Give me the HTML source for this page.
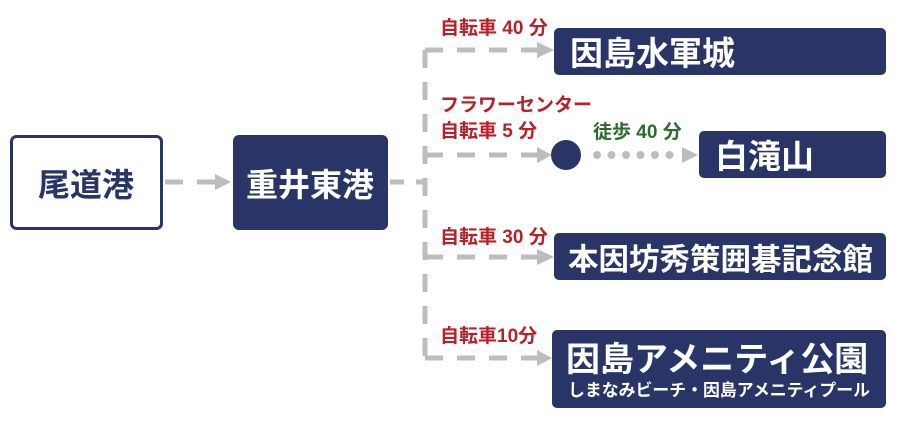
<!DOCTYPE html>
<html><head><meta charset="utf-8"><style>
html,body{margin:0;padding:0;background:#fff;}
svg{display:block;}
text{font-family:"Liberation Sans","Noto Sans CJK JP",sans-serif;font-weight:bold;}
</style></head><body>
<svg width="897" height="424" viewBox="0 0 897 424" xmlns="http://www.w3.org/2000/svg">
<g stroke="#bdbdbd" stroke-width="5" fill="none" stroke-dasharray="18 14">
<line x1="165" y1="182" x2="215" y2="182"/>
<line x1="390" y1="182" x2="425" y2="182" stroke-dasharray="14 12"/>
<line x1="425" y1="50" x2="425" y2="360"/>
<line x1="425" y1="50" x2="540" y2="50"/>
<line x1="425" y1="155" x2="540" y2="155"/>
<line x1="425" y1="257" x2="540" y2="257"/>
<line x1="425" y1="358" x2="540" y2="358"/>
</g>
<g stroke="#bdbdbd" stroke-width="8" fill="none" stroke-linecap="round" stroke-dasharray="0 14.5">
<line x1="597" y1="155" x2="684" y2="155"/>
</g>
<g fill="#bdbdbd">
<polygon points="215,174 231,182 215,190"/>
<polygon points="537,42 554,50 537,58"/>
<polygon points="537,147 552,155 537,163"/>
<polygon points="537,249 554,257 537,265"/>
<polygon points="537,350 552,358 537,366"/>
<polygon points="682,147 698,155 682,163"/>
</g>
<rect x="11.5" y="136.5" width="150" height="92" rx="5" fill="#fff" stroke="#283566" stroke-width="3"/>
<text x="86" y="196" font-size="32" fill="#283566" text-anchor="middle">尾道港</text>
<rect x="233" y="135" width="155" height="95" rx="6" fill="#283566"/>
<text x="310" y="196" font-size="32" fill="#fff" text-anchor="middle">重井東港</text>
<rect x="554" y="28" width="332" height="47" rx="5" fill="#283566"/>
<text x="570" y="65" font-size="33" fill="#fff">因島水軍城</text>
<circle cx="566" cy="155" r="15" fill="#283566"/>
<rect x="699" y="131" width="187" height="47" rx="5" fill="#283566"/>
<text x="715" y="168" font-size="33" fill="#fff">白滝山</text>
<rect x="554" y="233" width="332" height="47" rx="5" fill="#283566"/>
<text x="568" y="270" font-size="30.5" fill="#fff">本因坊秀策囲碁記念館</text>
<rect x="552" y="330" width="334" height="78" rx="5" fill="#283566"/>
<text x="566" y="371" font-size="34" fill="#fff">因島アメニティ公園</text>
<text x="568" y="396" font-size="17" fill="#fff" font-weight="normal" textLength="302" lengthAdjust="spacingAndGlyphs">しまなみビーチ・因島アメニティプール</text>
<g fill="#b5222a" font-size="19">
<text x="440" y="34">自転車 40 分</text>
<text x="440" y="111">フラワーセンター</text>
<text x="440" y="137">自転車 5 分</text>
<text x="440" y="243">自転車 30 分</text>
<text x="440" y="342">自転車10分</text>
</g>
<text x="593" y="138" font-size="19" fill="#2e6b2e">徒歩 40 分</text>
</svg>
</body></html>
